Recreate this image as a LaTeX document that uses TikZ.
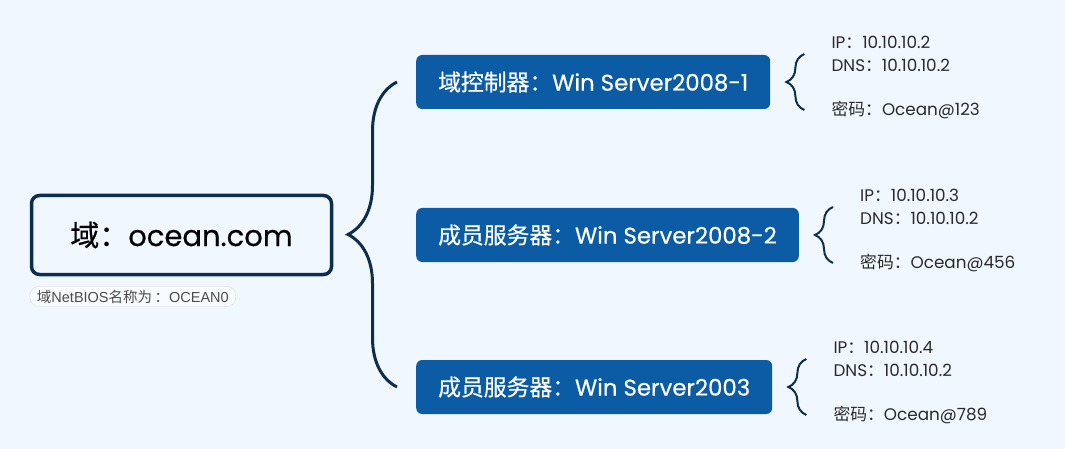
\documentclass[tikz,border=0pt]{standalone}
\usepackage{fontspec}
\setmainfont{Poppins}
\newfontfamily\cjk{Noto Sans CJK SC}
\newfontfamily\tagfont{Liberation Sans}
\newfontfamily\heavy{Poppins}[FakeBold=0.5]
\newfontfamily\heavycjk{Noto Sans CJK SC}[FakeBold=0.5]
\usetikzlibrary{decorations.pathreplacing}
\definecolor{bgblue}{HTML}{F0F7FE}
\definecolor{navy}{HTML}{0E2E4E}
\definecolor{boxblue}{HTML}{0B5CA5}
\definecolor{infotext}{HTML}{2B2B2B}
\definecolor{tagline}{HTML}{D6D9DC}
\begin{document}
\begin{tikzpicture}[x=1pt, y=-1pt,
  root/.style={draw=navy, line width=3.5pt, rounded corners=8pt, fill=bgblue, minimum width=300pt, minimum height=79pt, font=\heavy\fontsize{29}{36}\selectfont},
  srv/.style={fill=boxblue, text=white, rounded corners=6pt, anchor=west, inner xsep=22pt, minimum height=54pt, font=\heavy\fontsize{22.8}{26}\selectfont},
  info/.style={anchor=west, align=left, text=infotext, inner sep=0pt, font=\fontsize{16.8}{23}\selectfont},
  tag/.style={draw=tagline, fill=white!50!bgblue, rounded corners=9pt, anchor=north west, inner xsep=7pt, minimum height=20pt, text=black!70, font=\tagfont\fontsize{14.5}{16}\selectfont},
  bigbrace/.style={draw=navy, line width=3pt, decorate, decoration={brace, amplitude=49pt}},
  smallbrace/.style={draw=navy, line width=2pt, decorate, decoration={brace, amplitude=18pt}}]
\useasboundingbox[fill=bgblue] (0,0) rectangle (1065,449);
% domain
\node[root] (root) at (181.5,235) {{\heavycjk 域：}ocean.com};
\node[tag] (nb) at ([yshift=-10]root.south west) {{\cjk 域}NetBIOS{\cjk 名称为\,：}OCEAN0};
% servers
\node[srv] (b1) at (416,82)  {{\heavycjk 域控制器：}Win Server2008-1};
\node[srv] (b2) at (416,235) {{\heavycjk 成员服务器：}Win Server2008-2};
\node[srv] (b3) at (416,387) {{\heavycjk 成员服务器：}Win Server2003};
\draw[bigbrace] ([xshift=-19]b3.west) -- ([xshift=-19]b1.west);
% details
\node[info] (i1) at ([xshift=61,yshift=5]b1.east) {IP{\cjk ：}10.10.10.2\\DNS{\cjk ：}10.10.10.2\\[21pt]{\cjk 密码：}Ocean@123};
\node[info] (i2) at ([xshift=61,yshift=5]b2.east) {IP{\cjk ：}10.10.10.3\\DNS{\cjk ：}10.10.10.2\\[21pt]{\cjk 密码：}Ocean@456};
\node[info] (i3) at ([xshift=61,yshift=4]b3.east) {IP{\cjk ：}10.10.10.4\\DNS{\cjk ：}10.10.10.2\\[21pt]{\cjk 密码：}Ocean@789};
\draw[smallbrace] ([shift={(34,28)}]b1.east) -- ([shift={(34,-28)}]b1.east);
\draw[smallbrace] ([shift={(34,28)}]b2.east) -- ([shift={(34,-28)}]b2.east);
\draw[smallbrace] ([shift={(34,28)}]b3.east) -- ([shift={(34,-28)}]b3.east);
\end{tikzpicture}
\end{document}
